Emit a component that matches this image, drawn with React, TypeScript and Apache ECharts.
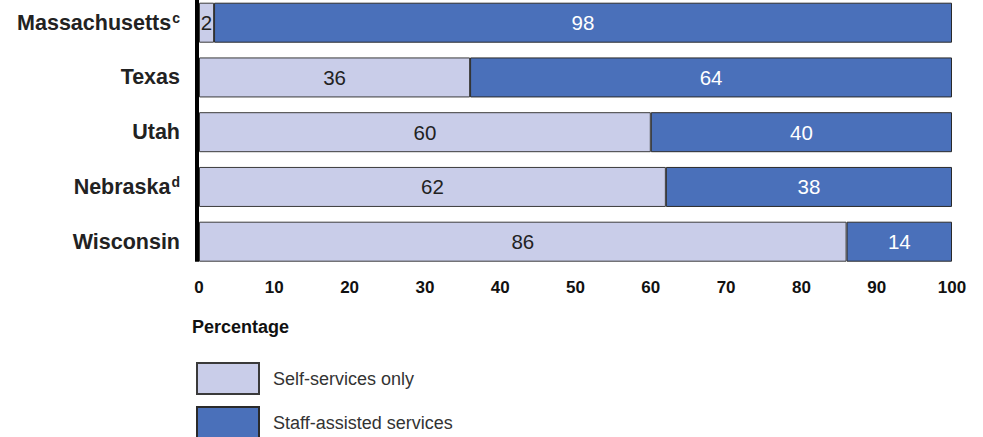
import React, { useEffect, useRef } from "react";
import * as echarts from "echarts";

const categories = ["Massachusetts", "Texas", "Utah", "Nebraska", "Wisconsin"];
const footnotes = ["c", "", "", "d", ""];
const selfServices = [2, 36, 60, 62, 86];
const staffAssisted = [98, 64, 40, 38, 14];
const xTicks = [0, 10, 20, 30, 40, 50, 60, 70, 80, 90, 100];
const seriesNames = ["Self-services only", "Staff-assisted services"];

const FONT = "'Liberation Sans', Arial, Helvetica, sans-serif";

export default function App() {
  const ref = useRef<HTMLDivElement>(null);
  useEffect(() => {
    if (!ref.current) return;
    const chart = echarts.init(ref.current, null, { renderer: "svg" });
    const legendBase = {
      orient: "vertical",
      left: 196,
      padding: 0,
      itemWidth: 62,
      itemHeight: 31,
      icon: "rect",
      selectedMode: false,
      textStyle: { fontFamily: FONT, fontSize: 18, color: "#333", padding: [0, 0, 0, 9] },
    };
    const option: any = {
      animation: false,
      textStyle: { fontFamily: FONT },
      grid: { left: 199, right: 31, top: 22.7, height: 219, containLabel: false },
      title: {
        text: "Percentage",
        left: 192,
        top: 318,
        padding: 0,
        textStyle: { fontFamily: FONT, fontSize: 18, fontWeight: "bold", color: "#111" },
      },
      legend: [
        { ...legendBase, top: 362, data: [seriesNames[0]] },
        { ...legendBase, top: 406, data: [seriesNames[1]] },
      ],
      xAxis: {
        type: "value",
        min: xTicks[0],
        max: xTicks[xTicks.length - 1],
        interval: 10,
        axisLine: { show: false },
        axisTick: { show: false },
        splitLine: { show: false },
        axisLabel: {
          margin: 37,
          fontFamily: FONT,
          fontSize: 17,
          fontWeight: "bold",
          color: "#111",
        },
      },
      yAxis: {
        type: "category",
        inverse: true,
        boundaryGap: false,
        data: categories,
        axisLine: { show: false },
        axisTick: { show: false },
        splitLine: { show: false },
        axisLabel: {
          margin: 19,
          formatter: (v: string) => {
            const i = categories.indexOf(v);
            const f = footnotes[i];
            return f ? `{n|${v}}{s|${f}}` : `{n|${v}}`;
          },
          rich: {
            n: { fontFamily: FONT, fontSize: 21.5, fontWeight: "bold", color: "#222" },
            s: {
              fontFamily: FONT,
              fontSize: 14,
              fontWeight: "bold",
              color: "#222",
              verticalAlign: "top",
              padding: [0, 0, 10, 1],
            },
          },
        },
      },
      series: [
        {
          name: seriesNames[0],
          type: "bar",
          stack: "total",
          barWidth: 40,
          data: selfServices,
          itemStyle: { color: "#c9cde9", borderColor: "#3a3a3a", borderWidth: 1 },
          label: {
            show: true,
            position: "inside",
            fontFamily: FONT,
            fontSize: 20.5,
            color: "#222",
          },
        },
        {
          name: seriesNames[1],
          type: "bar",
          stack: "total",
          barWidth: 40,
          data: staffAssisted,
          itemStyle: { color: "#4a70ba", borderColor: "#2a2a2a", borderWidth: 1 },
          label: {
            show: true,
            position: "inside",
            fontFamily: FONT,
            fontSize: 20.5,
            color: "#ffffff",
          },
        },
      ],
    };
    chart.setOption(option);
    const x0 = chart.convertToPixel({ xAxisIndex: 0 }, 0) as number;
    const yLast = chart.convertToPixel({ yAxisIndex: 0 }, categories[categories.length - 1]) as number;
    chart.setOption({
      graphic: [
        {
          type: "rect",
          shape: { x: x0 - 4, y: 0, width: 4, height: yLast + 20 },
          style: { fill: "#000" },
          z: 100,
        },
      ],
    });
    return () => chart.dispose();
  }, []);
  return (
    <div
      ref={ref}
      style={{ position: "fixed", left: 0, top: 0, width: 983, height: 437, background: "#fff" }}
    />
  );
}
